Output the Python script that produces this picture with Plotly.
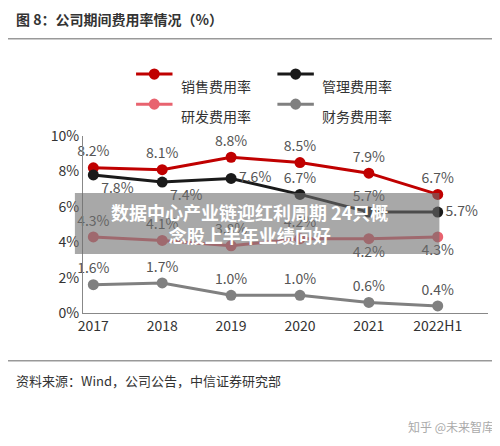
import plotly.graph_objects as go

years = ['2017', '2018', '2019', '2020', '2021', '2022H1']
sales = [8.2, 8.1, 8.8, 8.5, 7.9, 6.7]
mgmt = [7.8, 7.4, 7.6, 6.7, 5.7, 5.7]
rd = [4.3, 4.1, 3.8, 4.2, 4.2, 4.3]
fin = [1.6, 1.7, 1.0, 1.0, 0.6, 0.4]

series = [
    ('销售费用率', sales, '#c00000', ['top center'] * 6),
    ('管理费用率', mgmt, '#1a1a1a', ['bottom right', 'bottom right', 'middle right',
                                   'top center', 'top center', 'middle right']),
    ('研发费用率', rd, '#e8636f', ['top center'] * 4 + ['bottom center'] * 2),
    ('财务费用率', fin, '#808080', ['top center'] * 6),
]

fig = go.Figure()
for name, vals, col, pos in series:
    fig.add_trace(go.Scatter(x=years, y=vals, name=name, mode='lines+markers+text',
                             line=dict(color=col, width=3), marker=dict(size=11, color=col),
                             text=[f'{v:.1f}%' for v in vals], textposition=pos,
                             textfont=dict(size=14, color='#555'), cliponaxis=False))

fig.update_layout(
    width=500, height=446, margin=dict(l=75, r=20, t=128, b=141),
    paper_bgcolor='white', plot_bgcolor='white',
    font=dict(family='Noto Sans CJK SC', color='#333'),
    showlegend=False,
    xaxis=dict(range=[-0.15, 5.73], showline=True, linecolor='#888', ticks='',
               tickfont=dict(size=14, color='#333')),
    yaxis=dict(range=[0, 10], dtick=2, ticksuffix='%', showline=True, linecolor='#888',
               showgrid=False, tickfont=dict(size=14, color='#333')),
)

# title and source (paper coords are relative to plot area)
fig.add_annotation(text='<b>图 8：公司期间费用率情况（%）</b>', x=-0.17, y=1.66, xref='paper', yref='paper',
                   xanchor='left', yanchor='middle', showarrow=False, font=dict(size=14, color='#333'))
fig.add_shape(type='line', xref='paper', yref='paper', x0=-0.2, x1=1.06, y0=1.55, y1=1.55,
              line=dict(color='#999', width=1.5))
fig.add_shape(type='line', xref='paper', yref='paper', x0=-0.2, x1=1.06, y0=-0.27, y1=-0.27,
              line=dict(color='#999', width=1.5))
fig.add_annotation(text='资料来源：Wind，公司公告，中信证券研究部', x=-0.17, y=-0.38, xref='paper', yref='paper',
                   xanchor='left', yanchor='middle', showarrow=False, font=dict(size=13, color='#333'))
fig.add_annotation(text='知乎 @未来智库', x=1.02, y=-0.64, xref='paper', yref='paper',
                   xanchor='right', yanchor='middle', showarrow=False, font=dict(size=12, color='#aaa'))

# legend drawn manually
leg_pos = [(0.131, 1.35), (0.48, 1.35), (0.131, 1.18), (0.48, 1.18)]
for (name, vals, col, pos), (lx, ly) in zip(series, leg_pos):
    fig.add_shape(type='line', xref='paper', yref='paper', x0=lx, x1=lx + 0.09, y0=ly, y1=ly,
                  line=dict(color=col, width=3))
    fig.add_shape(type='circle', xref='paper', yref='paper', x0=lx + 0.034, x1=lx + 0.056,
                  y0=ly - 0.026, y1=ly + 0.026, fillcolor=col, line=dict(color=col))
    fig.add_annotation(text=name, x=lx + 0.105, y=ly, xref='paper', yref='paper', xanchor='left',
                       showarrow=False, font=dict(size=14, color='#333'))

# overlay banner
fig.add_shape(type='rect', xref='paper', yref='paper', x0=-0.02, x1=0.88, y0=0.333, y1=0.678,
              fillcolor='rgba(110,110,110,0.6)', line=dict(width=0))
fig.add_annotation(text='<b>数据中心产业链迎红利周期 24只概<br>念股上半年业绩向好</b>', x=0.41, y=0.508,
                   xref='paper', yref='paper', showarrow=False, align='center',
                   font=dict(size=18, color='white'))

fig.write_html('out.html')
